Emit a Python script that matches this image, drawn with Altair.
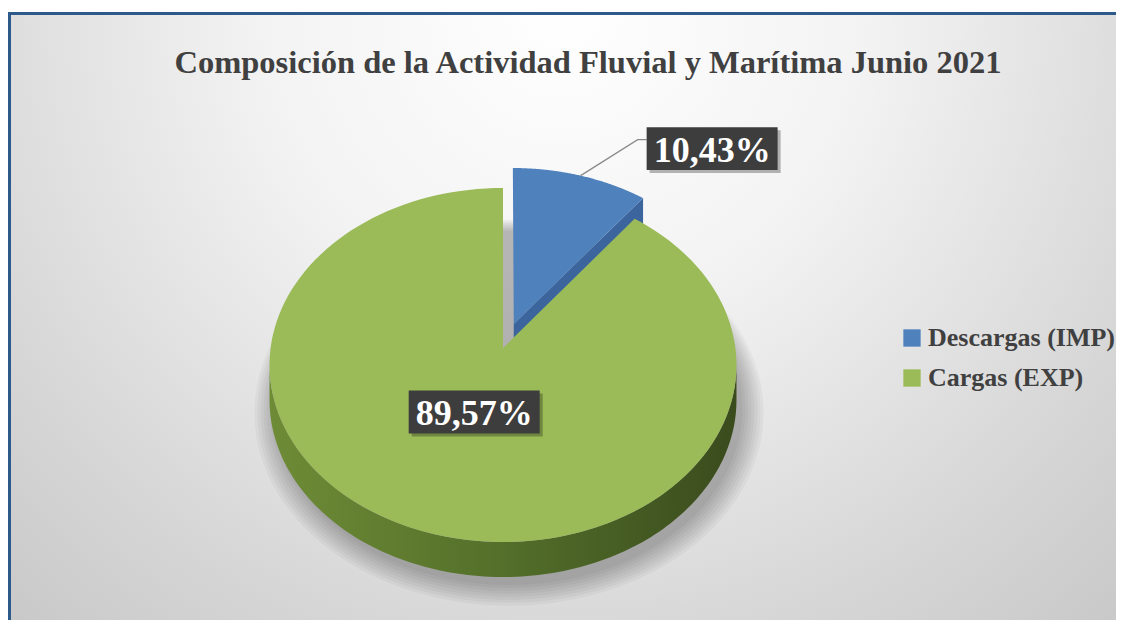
import math
import numpy as np
import pandas as pd
import altair as alt

# ---------------- data ----------------
categories = ["Descargas (IMP)", "Cargas (EXP)"]
shares = [10.43, 89.57]
slice_colors = ["#4f81bd", "#9bbb59"]
title_text = "Composición de la Actividad Fluvial y Marítima Junio 2021"

# ---------------- layout ----------------
W, H = 1112, 612            # whole svg (padding 0, autosize none)
CX, CY = 495, 340           # pie apex in chart pixels
A, B, K = 232.4, 175.4, 0.096   # perspective ellipse parameters
DEPTH = 35
EXPLODE = {"Descargas (IMP)": 0.146}
N = 140
FONT = "Liberation Serif"


def proj(u, v):
    w = 1 + K * v
    return A * u / w, B * v / w


def pt(eu, ev, deg, r=1.0):
    t = math.radians(deg)
    return proj(eu + r * math.sin(t), ev + r * math.cos(t))


total = float(sum(shares))
bounds = np.concatenate([[0.0], np.cumsum(shares)]) / total * 360.0
front_lo = math.degrees(math.acos(-K))
front_hi = 360.0 - front_lo

rows = []


def add(part, cat, pts, j=0):
    for i, (x, y) in enumerate(pts):
        rows.append({"part": part, "cat": cat, "j": j, "i": i, "X": x, "Y": y})


labels = []
leader = []
for s, cat in enumerate(categories):
    a0, a1 = bounds[s], bounds[s + 1]
    mid = (a0 + a1) / 2
    e = EXPLODE.get(cat, 0.0)
    eu, ev = e * math.sin(math.radians(mid)), e * math.cos(math.radians(mid))
    apex = proj(eu, ev)
    arc = [pt(eu, ev, t) for t in np.linspace(a0, a1, N)]
    add("top", cat, [apex] + arc)
    for ang, vis in ((a1, math.sin(math.radians(a1)) > 1e-6),
                     (a0, math.sin(math.radians(a0)) < -1e-6)):
        if vis:
            p1 = pt(eu, ev, ang)
            add("cut", cat, [apex, p1, (p1[0], p1[1] - DEPTH), (apex[0], apex[1] - DEPTH)])
    lo, hi = max(a0, front_lo), min(a1, front_hi)
    if hi > lo:
        top_arc = [pt(eu, ev, t) for t in np.linspace(lo, hi, N)]
        bot_arc = [(x, y - DEPTH) for (x, y) in reversed(top_arc)]
        add("side", cat, top_arc + bot_arc)
    txt = f"{shares[s]:.2f}".replace(".", ",") + "%"
    if shares[s] / total < 0.2:
        sx, sy = pt(eu, ev, mid)
        ex, ey = sx + 57, sy + 36
        fx, fy = ex + 9, ey
        leader += [{"cat": cat, "i": 0, "X": sx, "Y": sy},
                   {"cat": cat, "i": 1, "X": ex, "Y": ey},
                   {"cat": cat, "i": 2, "X": fx, "Y": fy}]
        labels.append({"cat": cat, "text": txt, "X": fx + 65.5, "Y": fy - 9})
    else:
        lx, ly = pt(eu, ev, mid, 0.372)
        labels.append({"cat": cat, "text": txt, "X": lx, "Y": ly})

for j in range(8):
    sc = 1 + 3.0 * j / A
    pts = []
    for t in np.linspace(0, 360, 181):
        x, y = pt(0, 0, t)
        pts.append((x * sc + 6, (y - DEPTH) * sc - 8))
    add("shadow", "shadow", pts, j)

df = pd.DataFrame(rows)
lead_df = pd.DataFrame(leader)
lab_df = pd.DataFrame(labels)

XS = alt.Scale(domain=[-CX, W - CX], nice=False, zero=False)
YS = alt.Scale(domain=[CY - H, CY], nice=False, zero=False)
xe = alt.X("X:Q", scale=XS, axis=None)
ye = alt.Y("Y:Q", scale=YS, axis=None)
oe = alt.Order("i:Q")

BG = {"gradient": "radial", "x1": 0.5, "y1": 0.22, "r1": 0, "x2": 0.5, "y2": 0.22, "r2": 0.78,
      "stops": [{"offset": 0, "color": "#ffffff"}, {"offset": 0.35, "color": "#f3f3f3"},
                {"offset": 0.75, "color": "#d6d6d6"}, {"offset": 1, "color": "#c6c6c6"}]}
SIDE = {"gradient": "linear", "x1": 0, "y1": 0, "x2": 1, "y2": 0,
        "stops": [{"offset": 0, "color": "#6e8c36"}, {"offset": 0.5, "color": "#536f2a"},
                  {"offset": 1, "color": "#3a4b1d"}]}

one = pd.DataFrame({"k": [0]})
bg = alt.Chart(one).mark_rect(fill=BG, strokeWidth=0).encode(
    x=alt.value(3), x2=alt.value(W - 4), y=alt.value(7), y2=alt.value(H))
border_top = alt.Chart(one).mark_rule(stroke="#2d5a8b", strokeWidth=3).encode(
    x=alt.value(0), x2=alt.value(W - 4), y=alt.value(5.5))
border_left = alt.Chart(one).mark_rule(stroke="#2d5a8b", strokeWidth=3).encode(
    x=alt.value(1.5), y=alt.value(4), y2=alt.value(H))

shadow = alt.Chart(df[df.part == "shadow"]).mark_line(
    interpolate="linear-closed", fill="#000000", fillOpacity=0.035, strokeOpacity=0, strokeWidth=0
).encode(x=xe, y=ye, order=oe, detail="j:N")

cut = alt.Chart(df[df.part == "cut"]).mark_line(
    interpolate="linear-closed", fill="#3b659c", strokeOpacity=0, strokeWidth=0
).encode(x=xe, y=ye, order=oe, detail="cat:N")

side = alt.Chart(df[df.part == "side"]).mark_line(
    interpolate="linear-closed", fill=SIDE, strokeOpacity=0, strokeWidth=0
).encode(x=xe, y=ye, order=oe, detail="cat:N")

tops = alt.Chart(df[df.part == "top"]).mark_line(
    interpolate="linear-closed", strokeOpacity=0, strokeWidth=0
).encode(
    x=xe, y=ye, order=oe, detail="cat:N",
    fill=alt.Fill("cat:N", scale=alt.Scale(domain=categories, range=slice_colors),
                  legend=alt.Legend(title=None, orient="none", legendX=891, legendY=317,
                                    symbolType="square", symbolSize=300, symbolStrokeWidth=0,
                                    labelFont=FONT, labelFontSize=26, labelFontWeight="bold",
                                    labelColor="#404040", rowPadding=14, labelOffset=3,
                                    padding=0, labelLimit=400)),
)

lead = alt.Chart(lead_df).mark_line(stroke="#8a8a8a", strokeWidth=1.3).encode(
    x=xe, y=ye, order=oe, detail="cat:N")

BOX = "M-1,-0.328L1,-0.328L1,0.328L-1,0.328Z"
box_sh = alt.Chart(lab_df).mark_point(
    shape=BOX, size=17161, filled=True, fill="#000000", opacity=0.28, strokeWidth=0,
    xOffset=3, yOffset=3).encode(x=xe, y=ye)
boxes = alt.Chart(lab_df).mark_point(
    shape=BOX, size=17161, filled=True, fill="#3d3d3d", opacity=1, strokeWidth=0
).encode(x=xe, y=ye)
texts = alt.Chart(lab_df).mark_text(
    font=FONT, fontSize=36, fontWeight="bold", color="white", align="center",
    baseline="middle", dy=2).encode(x=xe, y=ye, text="text:N")

title = alt.Chart(pd.DataFrame({"t": [title_text]})).mark_text(
    font=FONT, fontSize=32.5, fontWeight="bold", color="#404040", align="center", baseline="middle"
).encode(x=alt.value(580), y=alt.value(55), text="t:N")

chart = alt.layer(bg, border_top, border_left, shadow, cut, side, tops, lead, box_sh, boxes,
                  texts, title).properties(
    width=W, height=H, padding=0, autosize="none", background="white"
).configure_view(strokeWidth=0)

chart.save("out.html", embed_options={"renderer": "svg", "actions": False})
